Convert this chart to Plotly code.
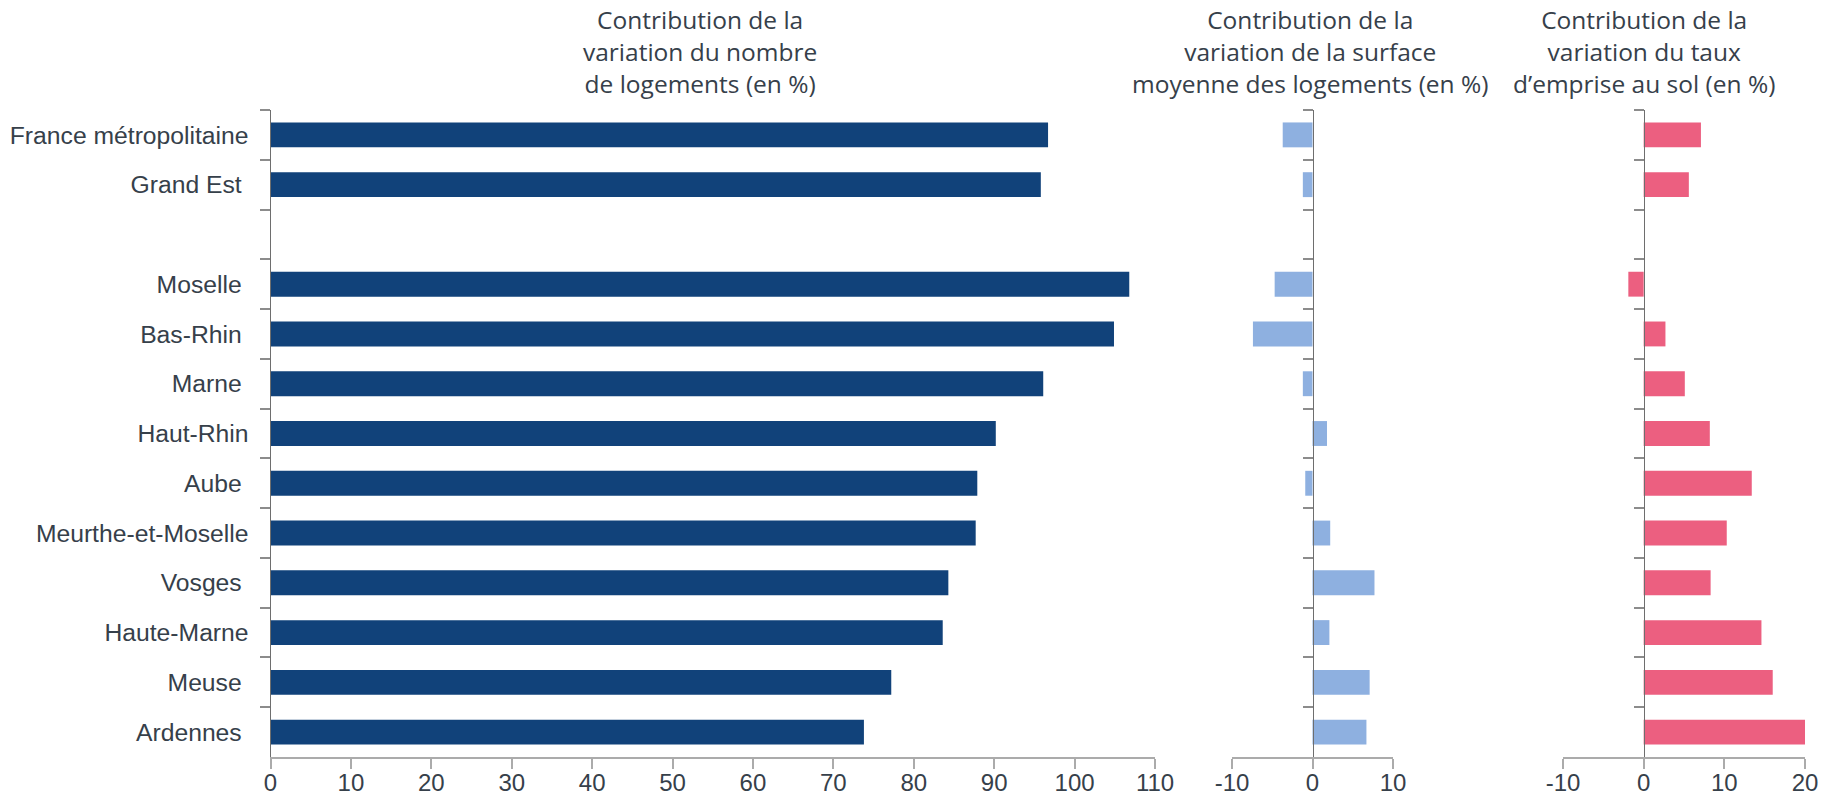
import plotly.graph_objects as go

NBSP = "\u00a0"
categories = [
    "France métropolitaine",
    "Grand Est" + NBSP,
    NBSP,
    "Moselle" + NBSP,
    "Bas-Rhin" + NBSP,
    "Marne" + NBSP,
    "Haut-Rhin",
    "Aube" + NBSP,
    "Meurthe-et-Moselle",
    "Vosges" + NBSP,
    "Haute-Marne",
    "Meuse" + NBSP,
    "Ardennes" + NBSP,
]
nombre_logements = [96.7, 95.8, None, 106.8, 104.9, 96.1, 90.2, 87.9, 87.7, 84.3, 83.6, 77.2, 73.8]
surface_moyenne = [-3.7, -1.2, None, -4.7, -7.4, -1.2, 1.8, -0.9, 2.2, 7.7, 2.1, 7.1, 6.7]
emprise_sol = [7.1, 5.6, None, -1.9, 2.7, 5.1, 8.2, 13.4, 10.3, 8.3, 14.6, 16.0, 20.0]

ticks1 = [0, 10, 20, 30, 40, 50, 60, 70, 80, 90, 100, 110]
ticks2 = [-10, 0, 10]
ticks3 = [-10, 0, 10, 20]

titles = [
    "Contribution de la<br>variation du nombre<br>de logements (en %)",
    "Contribution de la<br>variation de la surface<br>moyenne des logements (en %)",
    "Contribution de la<br>variation du taux<br>d’emprise au sol (en %)",
]

colors = ["#11427a", "#8eb0e0", "#ec5f80"]

W, H = 1823, 799
T = 110
B = H - 757


def px(x):
    return x / W


dom1 = [px(270.5), px(1155)]
dom2 = [px(1232), px(1393)]
dom3 = [px(1563), px(1805)]
rng1 = [0, 110]
rng2 = [-10, 10]
rng3 = [-10, 20]


def zero_pos(dom, rng):
    return dom[0] + (dom[1] - dom[0]) * (0 - rng[0]) / (rng[1] - rng[0])


fig = go.Figure()
fig.add_trace(go.Bar(y=categories, x=nombre_logements, orientation="h",
                     marker=dict(color=colors[0], line=dict(width=0)),
                     width=0.5, xaxis="x", yaxis="y", hoverinfo="x+y"))
fig.add_trace(go.Bar(y=categories, x=surface_moyenne, orientation="h",
                     marker=dict(color=colors[1], line=dict(width=0)),
                     width=0.5, xaxis="x2", yaxis="y2", hoverinfo="x+y"))
fig.add_trace(go.Bar(y=categories, x=emprise_sol, orientation="h",
                     marker=dict(color=colors[2], line=dict(width=0)),
                     width=0.5, xaxis="x3", yaxis="y3", hoverinfo="x+y"))

xtickfont = dict(family="Liberation Sans, Arial", size=24, color="#36404a")
ytickfont = dict(family="Liberation Sans, Arial", size=24.7, color="#36404a")


def xax(dom, rng, ticks, anchor):
    return dict(domain=dom, range=rng, anchor=anchor, tickvals=ticks,
                ticktext=[str(t) for t in ticks], showgrid=False, zeroline=False,
                showline=True, linecolor="#ababab", linewidth=2,
                ticks="outside", ticklen=10, tickwidth=1.5, tickcolor="#ababab",
                tickfont=xtickfont, ticklabelstandoff=-7,
                fixedrange=True, automargin=False)


def yax(pos, labels, anchor):
    d = dict(type="category", categoryorder="array", categoryarray=categories,
             autorange="reversed", domain=[0, 1], tickson="boundaries",
             showgrid=False, zeroline=False, showline=True, linecolor="#6e6e6e",
             linewidth=1, ticks="outside", ticklen=10, tickwidth=1.5,
             tickcolor="#8c8c8c", showticklabels=labels, tickfont=ytickfont,
             ticklabelstandoff=16, fixedrange=True, automargin=False)
    if anchor == "free":
        d.update(anchor="free", position=pos)
    else:
        d.update(anchor=anchor)
    return d


fig.update_layout(
    template="none",
    width=W, height=H, autosize=False,
    margin=dict(l=0, r=0, t=T, b=B, pad=0),
    paper_bgcolor="white", plot_bgcolor="white",
    showlegend=False,
    bargap=0.5,
    xaxis=xax(dom1, rng1, ticks1, "y"),
    xaxis2=xax(dom2, rng2, ticks2, "y2"),
    xaxis3=xax(dom3, rng3, ticks3, "y3"),
    yaxis=yax(None, True, "x"),
    yaxis2=yax(zero_pos(dom2, rng2), False, "free"),
    yaxis3=yax(zero_pos(dom3, rng3), False, "free"),
)

ph = H - T - B
ymid = 1 + (T - 52) / ph
for txt, xc in zip(titles, [700, 1310, 1644]):
    fig.add_annotation(text=txt, xref="paper", yref="paper", x=px(xc), y=ymid,
                       xanchor="center", yanchor="middle", showarrow=False,
                       align="center",
                       font=dict(family="Open Sans", size=24.5, color="#36404a"))

fig.write_html(
    "out.html",
    config={"displayModeBar": False},
    post_script="document.body.style.margin='0';document.body.style.overflow='hidden';",
)
